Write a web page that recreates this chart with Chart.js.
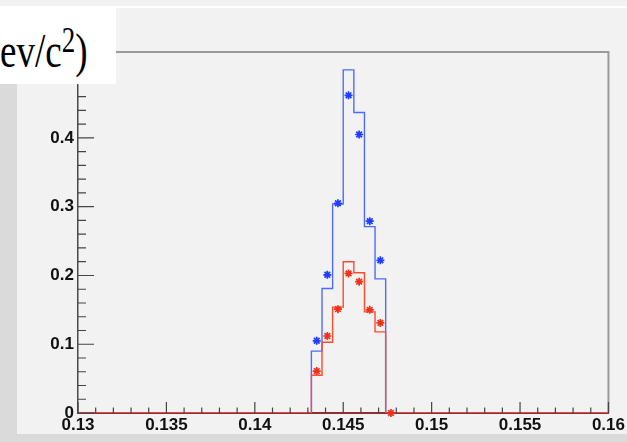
<!DOCTYPE html>
<html>
<head>
<meta charset="utf-8">
<script src="https://cdn.jsdelivr.net/npm/chart.js"></script>
<style>
  html, body { margin: 0; padding: 0; }
  body { width: 627px; height: 442px; overflow: hidden; position: relative; background: #f2f2f2; }
  .strip { position: absolute; background: #dadada; }
  #leftStrip { left: 0; top: 8px; width: 17px; height: 434px; }
  #bottomStrip { left: 0; top: 434px; width: 627px; height: 8px; }
  #topLine { position: absolute; left: 0; top: 6px; width: 627px; height: 2px; background: #fff; }
  #chart { position: absolute; left: 0; top: 0; z-index: 1; }
  #titleBox { position: absolute; left: 0; top: 7px; width: 116px; height: 77px; background: #fff; overflow: hidden; z-index: 2; }
  #titleText { position: absolute; left: 0; top: 20px; font: 37px "Liberation Serif", serif; line-height: 1; color: #000;
               white-space: nowrap; transform: scaleY(1.3); transform-origin: 0 0; }
  #titleText .sup { position: relative; top: -12px; font-size: 27px; }
</style>
</head>
<body>
<div class="strip" id="leftStrip"></div>
<div class="strip" id="bottomStrip"></div>
<div id="topLine"></div>
<canvas id="chart" width="627" height="442"></canvas>
<div id="titleBox"><span id="titleText">ev/c<span class="sup">2</span>)</span></div>
<script>
// histogram binning: 50 bins of 0.0006 between 0.13 and 0.16
const xMin = 0.13;
const xMax = 0.16;
const binWidth = 0.0006;

// bin contents (blue and red step histograms)
const blueHist = [
  0, 0, 0, 0, 0, 0, 0, 0, 0, 0,
  0, 0, 0, 0, 0, 0, 0, 0, 0, 0,
  0, 0, 0.090, 0.181, 0.304, 0.499, 0.437, 0.271, 0.195, 0,
  0, 0, 0, 0, 0, 0, 0, 0, 0, 0,
  0, 0, 0, 0, 0, 0, 0, 0, 0, 0
];
const redHist = [
  0, 0, 0, 0, 0, 0, 0, 0, 0, 0,
  0, 0, 0, 0, 0, 0, 0, 0, 0, 0,
  0, 0, 0.055, 0.103, 0.154, 0.220, 0.204, 0.147, 0.118, 0,
  0, 0, 0, 0, 0, 0, 0, 0, 0, 0,
  0, 0, 0, 0, 0, 0, 0, 0, 0, 0
];

// star markers at bin centres
const markerCenters = [0.1435, 0.1441, 0.1447, 0.1453, 0.1459, 0.1465, 0.1471, 0.1477];
const blueMarkers = [0.105, 0.201, 0.305, 0.462, 0.405, 0.279, 0.222, null];
const redMarkers = [0.061, 0.112, 0.151, 0.203, 0.191, 0.150, 0.131, 0];

// labelled ticks
const xLabels = ['0.13', '0.135', '0.14', '0.145', '0.15', '0.155', '0.16'];
const yLabels = ['0', '0.1', '0.2', '0.3', '0.4', '0.5'];

function histPoints(contents) {
  const pts = contents.map((c, i) => ({ x: xMin + i * binWidth, y: c }));
  pts.push({ x: xMax, y: contents[contents.length - 1] });
  return pts;
}

function markerPoints(values) {
  return markerCenters.map((x, i) => ({ x: x, y: values[i] }));
}

function findLabel(labels, v) {
  const hit = labels.find(l => Math.abs(parseFloat(l) - v) < 1e-7);
  return hit === undefined ? '' : hit;
}

// ROOT style inward ticks plus the grey frame
const rootAxes = {
  id: 'rootAxes',
  afterDatasetsDraw(chart) {
    const { ctx, chartArea: a, scales } = chart;
    const x = scales.x, y = scales.y;
    ctx.save();
    ctx.strokeStyle = '#9a9a9a';
    ctx.lineWidth = 2;
    ctx.beginPath();
    ctx.moveTo(a.left, a.top);
    ctx.lineTo(a.right, a.top);
    ctx.lineTo(a.right, a.bottom);
    ctx.stroke();

    ctx.strokeStyle = '#444';
    ctx.lineWidth = 1.2;
    ctx.beginPath();
    x.ticks.forEach(t => {
      const k = Math.round((t.value - xMin) / 0.001);
      if (Math.abs(t.value - xMin - k * 0.001) > 1e-7) return;
      const len = k % 5 === 0 ? 11 : 5.5;
      const px = x.getPixelForValue(t.value);
      ctx.moveTo(px, a.bottom);
      ctx.lineTo(px, a.bottom - len);
    });
    y.ticks.forEach(t => {
      const k = Math.round(t.value / 0.02);
      if (Math.abs(t.value - k * 0.02) > 1e-7) return;
      const len = k % 5 === 0 ? 16 : 8;
      const py = y.getPixelForValue(t.value);
      ctx.moveTo(a.left, py);
      ctx.lineTo(a.left + len, py);
    });
    ctx.stroke();
    ctx.restore();
  }
};

const tickFont = { family: '"Liberation Sans", Arial, sans-serif', size: 17, weight: 'bold' };

new Chart(document.getElementById('chart').getContext('2d'), {
  type: 'line',
  data: {
    datasets: [
      {
        type: 'scatter',
        data: markerPoints(redMarkers),
        pointStyle: 'star',
        pointRadius: 4,
        pointBorderWidth: 1.7,
        pointBorderColor: '#f0301a',
        pointBackgroundColor: '#f0301a',
        clip: false
      },
      {
        data: histPoints(redHist),
        borderColor: '#ff4a2e',
        borderWidth: 1.4,
        stepped: true,
        pointRadius: 0,
        fill: false
      },
      {
        type: 'scatter',
        data: markerPoints(blueMarkers),
        pointStyle: 'star',
        pointRadius: 4,
        pointBorderWidth: 1.7,
        pointBorderColor: '#1f3cff',
        pointBackgroundColor: '#1f3cff',
        clip: false
      },
      {
        data: histPoints(blueHist),
        borderColor: '#4d6bff',
        borderWidth: 1.4,
        stepped: true,
        pointRadius: 0,
        fill: false
      }
    ]
  },
  options: {
    responsive: false,
    animation: false,
    events: [],
    layout: { padding: { top: 52, right: 16, left: 0, bottom: 0 } },
    plugins: { legend: { display: false }, tooltip: { enabled: false } },
    scales: {
      x: {
        type: 'linear',
        min: xMin,
        max: xMax,
        z: 1,
        afterFit(scale) { scale.height = 29; },
        grid: { display: false, drawTicks: false },
        border: { display: true, color: '#8e3030', width: 2 },
        ticks: {
          stepSize: 0.001,
          autoSkip: false,
          maxRotation: 0,
          padding: 2,
          color: '#111',
          font: tickFont,
          callback: v => findLabel(xLabels, v)
        }
      },
      y: {
        min: 0,
        max: 0.525,
        afterFit(scale) { scale.width = 78; },
        grid: { display: false, drawTicks: false },
        border: { display: true, color: '#4a4a4a', width: 1.5 },
        ticks: {
          stepSize: 0.02,
          autoSkip: false,
          padding: 4,
          color: '#111',
          font: tickFont,
          callback: v => findLabel(yLabels, v)
        }
      }
    }
  },
  plugins: [rootAxes]
});
</script>
</body>
</html>
